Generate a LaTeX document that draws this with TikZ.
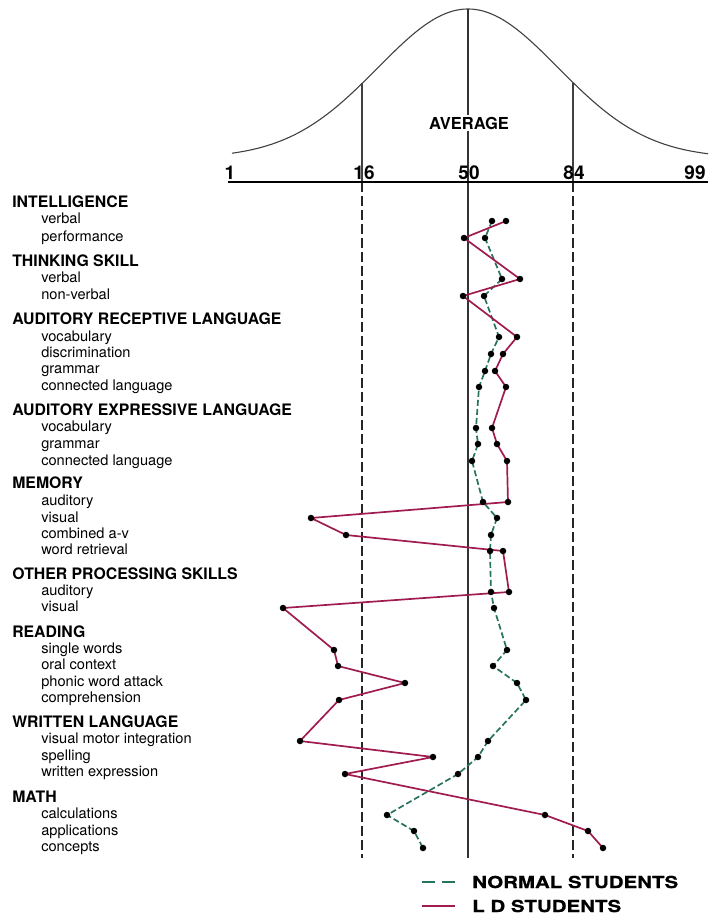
\documentclass[tikz,border=0pt]{standalone}
\usepackage{fontspec}
\usepackage{graphicx}
\setmainfont{TeX Gyre Heros}
\newfontfamily\heavyfont{TeX Gyre Heros}[FakeStretch=1.24,FakeBold=0.8]
\usetikzlibrary{positioning}

\definecolor{ldred}{RGB}{160,28,80}
\definecolor{nmgreen}{RGB}{40,115,95}

\begin{document}
\begin{tikzpicture}[x=1pt,y=-1pt,semithick,
  dot/.style={circle,fill=black,inner sep=0pt,minimum size=6.5pt},
  head/.style={anchor=base west,inner sep=0pt,font=\fontsize{15.8}{16}\selectfont\bfseries},
  item/.style={anchor=base west,inner sep=0pt,font=\fontsize{14.6}{15}\selectfont},
  num/.style={anchor=base,inner sep=0pt,font=\fontsize{19}{19}\selectfont\bfseries},
  legend/.style={anchor=west,inner sep=0pt,font=\heavyfont\bfseries\fontsize{16.5}{17}\selectfont},
  ldline/.style={ldred,line width=1.7pt,line join=round},
  nmline/.style={nmgreen,line width=1.7pt,dash pattern=on 6pt off 3pt},
  guide/.style={line width=1.9pt,black!85,dash pattern=on 10pt off 4pt}]

\useasboundingbox (0,0) rectangle (709,915);

% bell curve
\draw[line width=1.1pt,black!75]
    plot[domain=232:708,samples=120,smooth] (\x,{158-149*exp(-((\x-468)/90)^2/2)});

\coordinate (top50) at (468,9);
\coordinate (top16) at (362,83.5);
\coordinate (top84) at (573,82.6);
\coordinate (ax1) at (228,182);
\coordinate (ax99) at (708,182);
\coordinate (ax16) at (362,182);
\coordinate (ax84) at (573,182);
\coordinate (bot16) at (362,858);
\coordinate (bot50) at (468,858);
\coordinate (bot84) at (573,858);

\draw[line width=1.1pt,black!75] (top16) -- (ax16);
\draw[line width=1.1pt,black!75] (top84) -- (ax84);
\draw[line width=2pt,black!80] (top50) -- (bot50);
\draw[guide] (ax16) -- (bot16);
\draw[guide] (ax84) -- (bot84);
\draw[line width=1.9pt] (ax1) -- (ax99);

\node[fill=white,inner sep=2pt,font=\fontsize{16.5}{17}\selectfont\bfseries] (avg) at (469,123) {AVERAGE};

\node[num] (p1) at (230,179) {1};
\node[num] (p16) at (364,179) {16};
\node[num] (p50) at (469,179) {50};
\node[num] (p84) at (574,179) {84};
\node[num] (p99) at (695,179) {99};

% row labels
\node[head] (hint) at (12,207.5) {INTELLIGENCE};
\node[item] (int1) at (41,223) {verbal};
\node[item] (int2) at (41,241) {performance};
\node[head] (hthk) at (12,266.5) {THINKING SKILL};
\node[item] (thk1) at (41,282) {verbal};
\node[item] (thk2) at (41,299) {non-verbal};
\node[head] (hrec) at (12,324.5) {AUDITORY RECEPTIVE LANGUAGE};
\node[item] (rec1) at (41,341) {vocabulary};
\node[item] (rec2) at (41,357) {discrimination};
\node[item] (rec3) at (41,373) {grammar};
\node[item] (rec4) at (41,390) {connected language};
\node[head] (hexp) at (12,415.5) {AUDITORY EXPRESSIVE LANGUAGE};
\node[item] (exp1) at (41,431) {vocabulary};
\node[item] (exp2) at (41,448) {grammar};
\node[item] (exp3) at (41,465) {connected language};
\node[head] (hmem) at (12,488.5) {MEMORY};
\node[item] (mem1) at (41,505) {auditory};
\node[item] (mem2) at (41,522) {visual};
\node[item] (mem3) at (41,538) {combined a-v};
\node[item] (mem4) at (41,554) {word retrieval};
\node[head] (hops) at (12,579.5) {OTHER PROCESSING SKILLS};
\node[item] (ops1) at (41,595) {auditory};
\node[item] (ops2) at (41,611) {visual};
\node[head] (hrd) at (12,637.5) {READING};
\node[item] (rd1) at (41,653) {single words};
\node[item] (rd2) at (41,669) {oral context};
\node[item] (rd3) at (41,686) {phonic word attack};
\node[item] (rd4) at (41,702) {comprehension};
\node[head] (hwl) at (12,727.5) {WRITTEN LANGUAGE};
\node[item] (wl1) at (41,743) {visual motor integration};
\node[item] (wl2) at (41,760) {spelling};
\node[item] (wl3) at (41,776) {written expression};
\node[head] (hmth) at (12,802.5) {MATH};
\node[item] (mth1) at (41,818) {calculations};
\node[item] (mth2) at (41,835) {applications};
\node[item] (mth3) at (41,851) {concepts};

% scores
\foreach \x/\y [count=\i] in {492/221,485/238,502/279,484/296,499/337,491/354,485/371,479/387,
    476/428,478/444,472/461,483/502,497/518,491/535,490/551,491/592,494/608,507/650,493/666,
    517/683,526/700,488/741,478/757,458/774,387/815,414/831,423/848}
  \coordinate (nm\i) at (\x,\y);
\foreach \x/\y [count=\i] in {506/221,464/238,520/279,463/296,517/337,503/354,495/371,506/387,
    492/428,497/444,507/461,508/502,311/518,346/535,503/551,509/592,283/608,334/650,338/666,
    405/683,339/700,300/741,433/757,345/774,545/815,588/831,603/848}
  \coordinate (ld\i) at (\x,\y);

\draw[nmline] (nm1) \foreach \i in {2,...,27} { -- (nm\i) };
\draw[ldline] (ld1) \foreach \i in {2,...,27} { -- (ld\i) };

\foreach \i in {1,...,27} {
  \node[dot] (nmd\i) at (nm\i) {};
  \node[dot] (ldd\i) at (ld\i) {};
}

% legend
\coordinate (nl1) at (422,882);
\coordinate (nl2) at (455,882);
\coordinate (ll1) at (422,906);
\coordinate (ll2) at (455,906);
\draw[nmline,dash pattern=on 13pt off 7pt] (nl1) -- (nl2);
\draw[ldline,line width=2.2pt] (ll1) -- (ll2);
\node[legend,right=17pt of nl2] (nltxt) {NORMAL STUDENTS};
\node[legend,right=17pt of ll2] (lltxt) {L D STUDENTS};

\end{tikzpicture}
\end{document}
